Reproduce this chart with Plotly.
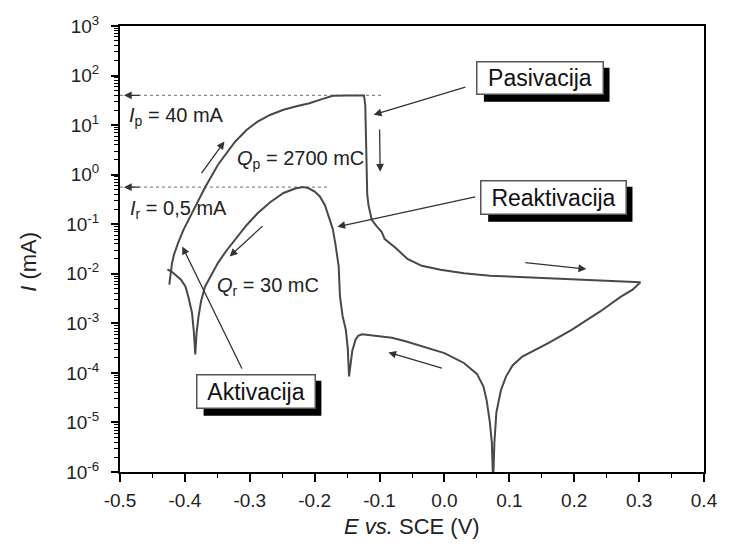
import numpy as np
import plotly.graph_objects as go

# ---- data ----
# forward (anodic) scan: potential E (V vs SCE) and log10 of current (mA)
E_forward = [-0.424, -0.420, -0.417, -0.410, -0.402, -0.393, -0.384, -0.369, -0.349, -0.323,
             -0.305, -0.288, -0.268, -0.248, -0.228, -0.208, -0.190, -0.172, -0.150, -0.124,
             -0.122, -0.121, -0.120, -0.119, -0.117, -0.112, -0.104, -0.097, -0.092, -0.076,
             -0.057, -0.035, -0.006, 0.030, 0.070, 0.120, 0.170, 0.220, 0.272, 0.302]
logI_forward = [-2.22, -1.80, -1.62, -1.36, -1.11, -0.87, -0.64, -0.26, 0.20, 0.66,
                0.90, 1.07, 1.21, 1.31, 1.38, 1.44, 1.52, 1.59, 1.60, 1.60,
                1.40, 0.80, 0.20, -0.40, -0.62, -0.91, -1.05, -1.15, -1.30, -1.47,
                -1.70, -1.84, -1.92, -1.99, -2.04, -2.07, -2.10, -2.12, -2.15, -2.17]

# reverse (reactivation) scan
E_reverse = [0.290, 0.272, 0.240, 0.196, 0.160, 0.120, 0.105, 0.095, 0.087, 0.080,
             0.077, 0.075, 0.073, 0.070, 0.065, 0.060, 0.050, 0.030, 0.000, -0.031,
             -0.060, -0.081, -0.105, -0.127, -0.133, -0.137, -0.142, -0.147, -0.149, -0.152,
             -0.157, -0.161, -0.163, -0.165, -0.168, -0.172, -0.177, -0.184, -0.192, -0.200,
             -0.210, -0.218, -0.230, -0.248, -0.268, -0.288, -0.305, -0.323, -0.337, -0.349,
             -0.360, -0.369, -0.375, -0.379, -0.382, -0.384, -0.386, -0.389, -0.394, -0.399,
             -0.406, -0.414, -0.420, -0.427]
logI_reverse = [-2.32, -2.46, -2.76, -3.13, -3.40, -3.67, -3.85, -4.07, -4.35, -4.80,
                -5.40, -6.20, -5.40, -5.00, -4.55, -4.27, -4.02, -3.80, -3.60, -3.47,
                -3.36, -3.29, -3.25, -3.22, -3.25, -3.33, -3.55, -4.07, -3.50, -3.13,
                -2.85, -2.45, -1.85, -1.65, -1.40, -1.10, -0.88, -0.62, -0.44, -0.34,
                -0.27, -0.25, -0.28, -0.37, -0.55, -0.78, -1.02, -1.31, -1.55, -1.78,
                -2.03, -2.26, -2.55, -2.86, -3.20, -3.63, -3.20, -2.79, -2.50, -2.26,
                -2.12, -2.02, -1.96, -1.91]

I_p = 40.0      # mA, passivation peak current
I_r = 0.56      # mA, reactivation peak current
E_ip_end = -0.095
E_ir_end = -0.180

x_ticks = [-0.5, -0.4, -0.3, -0.2, -0.1, 0.0, 0.1, 0.2, 0.3, 0.4]
x_ticktext = ["-0.5", "-0.4", "-0.3", "-0.2", "-0.1", "0.0", "0.1", "0.2", "0.3", "0.4"]
y_exponents = [-6, -5, -4, -3, -2, -1, 0, 1, 2, 3]
y_ticktext = ["10<sup>%d</sup>" % k for k in y_exponents]

E_scan = E_forward + E_reverse
I_scan = [10 ** v for v in (logI_forward + logI_reverse)]

FONT = "Liberation Sans, Arial, sans-serif"
CURVE = "#484848"
ARROW = "#333333"

X_RANGE = [-0.5, 0.4]
Y_RANGE = [-6, 3]
M_L, M_R, M_T, M_B = 120, 15, 26, 75
W, H = 730, 547
PW, PH = W - M_L - M_R, H - M_T - M_B

fig = go.Figure()
fig.add_trace(go.Scatter(x=[X_RANGE[0], E_ip_end], y=[I_p, I_p], mode="lines",
                         line=dict(color="#8a8a8a", width=1.3, dash="dot"), hoverinfo="skip"))
fig.add_trace(go.Scatter(x=[X_RANGE[0], E_ir_end], y=[I_r, I_r], mode="lines",
                         line=dict(color="#8a8a8a", width=1.3, dash="dot"), hoverinfo="skip"))
fig.add_trace(go.Scatter(x=E_scan, y=I_scan, mode="lines",
                         line=dict(color=CURVE, width=2.0)))

ann = []
shapes = []

def arrow(hx, hy, tx, ty, head=2, size=1.2):
    ann.append(dict(x=hx, y=hy, ax=tx, ay=ty, xref="x", yref="y", axref="x", ayref="y",
                    showarrow=True, arrowhead=head, arrowsize=size, arrowwidth=1.3,
                    arrowcolor=ARROW, text=""))

lip = np.log10(I_p)
lir = np.log10(I_r)
arrow(-0.494, lip, -0.468, lip)
arrow(-0.494, lir, -0.468, lir)
arrow(-0.339, 0.67, -0.376, 0.0)
arrow(-0.331, -1.65, -0.278, -1.01)
arrow(-0.099, 0.06, -0.100, 0.94)
arrow(0.2186, -1.905, 0.1224, -1.772)
arrow(-0.0865, -3.587, -0.0018, -3.915)
arrow(-0.109, 1.21, 0.0345, 1.776)
arrow(-0.165, -1.05, 0.0496, -0.441)
arrow(-0.404, -1.45, -0.311, -3.94)

def label(x, y, text):
    ann.append(dict(x=x, y=y, xref="x", yref="y", text=text, showarrow=False,
                    xanchor="left", yanchor="middle",
                    font=dict(family=FONT, size=20, color="#222")))

label(-0.489, 1.165, "<i>I</i><sub>p</sub> = 40 mA")
label(-0.488, -0.71, "<i>I</i><sub>r</sub> = 0,5 mA")
label(-0.3225, 0.298, "<i>Q</i><sub>p</sub> = 2700 mC")
label(-0.353, -2.26, "<i>Q</i><sub>r</sub> = 30 mC")

def to_paper(e, logi):
    return ((e - X_RANGE[0]) / (X_RANGE[1] - X_RANGE[0]),
            (logi - Y_RANGE[0]) / (Y_RANGE[1] - Y_RANGE[0]))

def box(x, y, text, w, h, off=7):
    # drop shadow (black rectangle, offset down-right)
    px, py = to_paper(x, y)
    bw = (w + 3) / PW
    bh = (h + 3) / PH
    dx, dy = off / PW, off / PH
    shapes.append(dict(type="rect", xref="paper", yref="paper",
                       x0=px - bw / 2 + dx, x1=px + bw / 2 + dx,
                       y0=py - bh / 2 - dy, y1=py + bh / 2 - dy,
                       fillcolor="black", line=dict(width=0), layer="above"))
    ann.append(dict(x=x, y=y, xref="x", yref="y", text=text, showarrow=False,
                    xanchor="center", yanchor="middle",
                    width=w, height=h, bgcolor="white", bordercolor="#555", borderwidth=1.5,
                    borderpad=0, font=dict(family=FONT, size=23, color="#111")))

box(0.147, 1.956, "Pasivacija", 125, 31)
box(0.168, -0.458, "Reaktivacija", 144, 32)
box(-0.291, -4.369, "Aktivacija", 117, 32)

ann.append(dict(x=0.5, y=-0.122, xref="paper", yref="paper", showarrow=False,
                text="<i>E vs.</i> SCE (V)", xanchor="center", yanchor="middle",
                font=dict(family=FONT, size=22, color="#222")))
ann.append(dict(x=-0.156, y=0.471, xref="paper", yref="paper", showarrow=False,
                text="<i>I</i> (mA)", xanchor="center", yanchor="middle", textangle=-90,
                font=dict(family=FONT, size=22, color="#222")))

fig.update_layout(
    width=W, height=H,
    margin=dict(l=M_L, r=M_R, t=M_T, b=M_B),
    paper_bgcolor="white", plot_bgcolor="white",
    showlegend=False,
    annotations=ann,
    shapes=shapes,
    font=dict(family=FONT, size=19, color="#222"),
)
fig.update_xaxes(range=X_RANGE, tickvals=x_ticks, ticktext=x_ticktext,
                 showline=True, linewidth=2, linecolor="black", mirror=True,
                 ticks="outside", ticklen=8, tickwidth=1.5, tickcolor="black",
                 ticklabelstandoff=2,
                 minor=dict(dtick=0.05, ticks="outside", ticklen=4, tickwidth=1.2,
                            tickcolor="black", showgrid=False),
                 showgrid=False, zeroline=False, tickfont=dict(size=19))
fig.update_yaxes(type="log", range=Y_RANGE, tickvals=[10 ** k for k in y_exponents],
                 ticktext=y_ticktext,
                 showline=True, linewidth=2, linecolor="black", mirror=True,
                 ticks="outside", ticklen=7, tickwidth=1.5, tickcolor="black",
                 ticklabelstandoff=8,
                 minor=dict(dtick="D1", ticks="outside", ticklen=4, tickwidth=1.2,
                            tickcolor="black", showgrid=False),
                 showgrid=False, zeroline=False, tickfont=dict(size=19))

fig.write_html("out.html")
